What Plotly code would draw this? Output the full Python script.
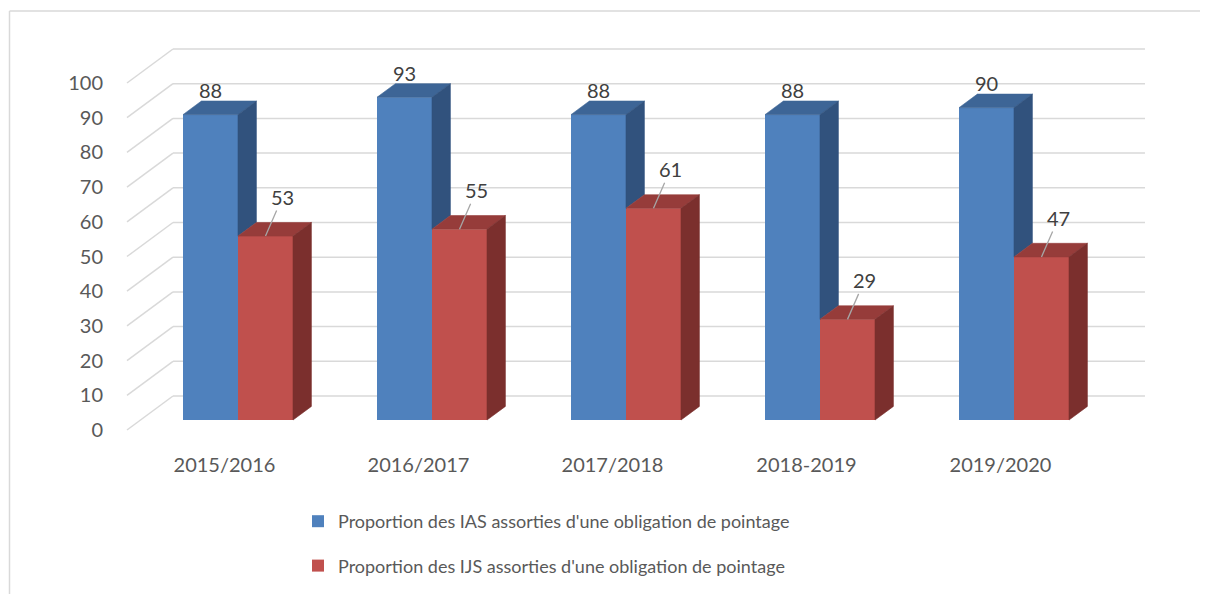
import plotly.graph_objects as go

# ---------------- data ----------------
categories = ["2015/2016", "2016/2017", "2017/2018", "2018-2019", "2019/2020"]
ias_values = [88, 93, 88, 88, 90]
ijs_values = [53, 55, 61, 29, 47]
series_names = [
    "Proportion des IAS assorties d'une obligation de pointage",
    "Proportion des IJS assorties d'une obligation de pointage",
]
y_ticks = [0, 10, 20, 30, 40, 50, 60, 70, 80, 90, 100]

# ---------------- styling / geometry ----------------
BODY = 8                      # browser default body margin
W, H = 1208 - BODY, 594 - BODY


def sx(p):  # page pixel -> figure pixel
    return p - BODY


PLOT_L, PLOT_R, PLOT_T, PLOT_B = sx(110), sx(1160), sx(30), sx(448)
CAT_PX = 194.0          # pixels per category
VAL_PX = 3.47           # pixels per value unit
X0_PX = sx(238.0)       # pixel x of first category (bar plane)
Y0_PX = sx(420.0)       # pixel y of value 0 (bar plane)
DEPTH_DX, DEPTH_DY = 46.0, 34.0   # px per unit of depth (right, up)
du = DEPTH_DX / CAT_PX
dv = DEPTH_DY / VAL_PX
D_FRONT = -0.294        # floor front relative to bar front
D_BACK = 0.706          # back wall relative to bar front
D_BAR = 0.40            # bar depth
BW = 55.0 / CAT_PX      # bar width (data units)
LEFT_WALL_U = (sx(140.5) - X0_PX) / CAT_PX
RIGHT_WALL_U = (sx(1112.5) - X0_PX) / CAT_PX

xr = [(PLOT_L - X0_PX) / CAT_PX, (PLOT_R - X0_PX) / CAT_PX]
yr = [(Y0_PX - PLOT_B) / VAL_PX, (Y0_PX - PLOT_T) / VAL_PX]

BLUE, BLUE_TOP, BLUE_SIDE = "#4F81BD", "#3D6596", "#31527D"
RED, RED_TOP, RED_SIDE = "#C0504D", "#963C3A", "#7B2F2D"
GRID = "#D9D9D9"
FONT = "Lato"

fig = go.Figure()
xs = list(range(len(categories)))

# front faces (real bars)
fig.add_trace(go.Bar(x=xs, y=ias_values, width=BW, offset=-BW, name=series_names[0],
                     marker=dict(color=BLUE, line=dict(width=0)), legendgroup="a",
                     hoverinfo="skip"))
fig.add_trace(go.Bar(x=xs, y=ijs_values, width=BW, offset=0, name=series_names[1],
                     marker=dict(color=RED, line=dict(width=0)), legendgroup="b",
                     hoverinfo="skip"))

bdu, bdv = D_BAR * du, D_BAR * dv


def poly(px, py, color):
    fig.add_trace(go.Scatter(x=px + [px[0]], y=py + [py[0]], fill="toself", mode="lines",
                             line=dict(color=color, width=0.6), fillcolor=color,
                             showlegend=False, hoverinfo="skip"))


for c, b, r in zip(xs, ias_values, ijs_values):
    # blue top
    poly([c - BW, c, c + bdu, c - BW + bdu], [b, b, b + bdv, b + bdv], BLUE_TOP)
    # blue side (visible part above the red bar)
    low = min(b, r)
    poly([c, c, c + bdu, c + bdu], [low, b, b + bdv, low + bdv], BLUE_SIDE)
    # red top
    poly([c, c + BW, c + BW + bdu, c + bdu], [r, r, r + bdv, r + bdv], RED_TOP)
    # red side
    poly([c + BW, c + BW, c + BW + bdu, c + BW + bdu], [0, r, r + bdv, bdv], RED_SIDE)

# walls / gridlines
shapes = []
for v in y_ticks:
    fx, fy = LEFT_WALL_U + D_FRONT * du, v + D_FRONT * dv
    bx, by = LEFT_WALL_U + D_BACK * du, v + D_BACK * dv
    rx = RIGHT_WALL_U + D_BACK * du
    shapes.append(dict(type="line", xref="x", yref="y", x0=fx, y0=fy, x1=bx, y1=by,
                       line=dict(color=GRID, width=1.5), layer="below"))
    shapes.append(dict(type="line", xref="x", yref="y", x0=bx, y0=by, x1=rx, y1=by,
                       line=dict(color=GRID, width=1.5), layer="below"))

# chart frame (top and left edges visible)
pw, ph = PLOT_R - PLOT_L, PLOT_B - PLOT_T
def px2paper_x(p): return (p - PLOT_L) / pw
def px2paper_y(p): return (PLOT_B - p) / ph
shapes.append(dict(type="line", xref="paper", yref="paper",
                   x0=px2paper_x(sx(9.5)), y0=px2paper_y(sx(11)), x1=px2paper_x(W + 5), y1=px2paper_y(sx(11)),
                   line=dict(color=GRID, width=1.5)))
shapes.append(dict(type="line", xref="paper", yref="paper",
                   x0=px2paper_x(sx(9.5)), y0=px2paper_y(sx(11)), x1=px2paper_x(sx(9.5)), y1=px2paper_y(H + 5),
                   line=dict(color=GRID, width=1.5)))

# data labels
annotations = []
for c, b, r in zip(xs, ias_values, ijs_values):
    annotations.append(dict(x=c - BW / 2, y=b + bdv, xref="x", yref="y", text=str(b),
                            showarrow=False, yanchor="bottom", yshift=-3,
                            font=dict(family=FONT, size=20, color="#404040")))
    annotations.append(dict(x=c + BW / 2, y=r, xref="x", yref="y", text=str(r),
                            showarrow=True, arrowhead=0, arrowwidth=1.3, arrowcolor="#A6A6A6",
                            ax=17, ay=-39, standoff=0,
                            font=dict(family=FONT, size=20, color="#404040")))

fig.update_layout(
    width=W, height=H,
    margin=dict(l=PLOT_L, r=W - PLOT_R, t=PLOT_T, b=H - PLOT_B, pad=0, autoexpand=False),
    paper_bgcolor="white", plot_bgcolor="white",
    barmode="overlay",
    showlegend=True,
    legend=dict(orientation="v", x=px2paper_x(sx(298)), y=px2paper_y(sx(503)),
                xanchor="left", yanchor="top", tracegroupgap=18,
                font=dict(family=FONT, size=18, color="#595959")),
    shapes=shapes, annotations=annotations,
    font=dict(family=FONT),
)
fig.update_xaxes(range=xr, showgrid=False, zeroline=False, showline=False,
                 tickmode="array", tickvals=[c + D_FRONT * du for c in xs], ticktext=categories,
                 ticks="", ticklabelstandoff=3,
                 tickfont=dict(family=FONT, size=20, color="#595959"), fixedrange=True)
fig.update_yaxes(range=yr, showgrid=False, zeroline=False, showline=False,
                 tickmode="array", tickvals=[v + D_FRONT * dv for v in y_ticks],
                 ticktext=[str(v) for v in y_ticks], ticks="", ticklabelstandoff=6,
                 tickfont=dict(family=FONT, size=20, color="#595959"), fixedrange=True)

fig.write_html("out.html")
